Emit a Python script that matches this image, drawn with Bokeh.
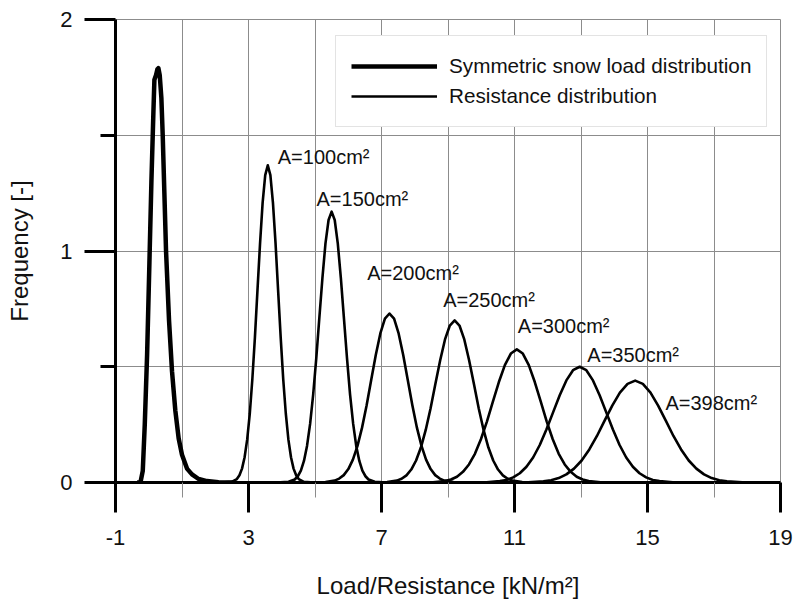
from bokeh.plotting import figure
from bokeh.models import Range1d, FixedTicker, Legend, LegendItem
from bokeh.core.properties import value
from bokeh.embed import file_html
from bokeh.resources import INLINE

# ---------------- data ----------------
x_ticks = [-1, 3, 7, 11, 15, 19]
x_tick_labels = ["-1", "3", "7", "11", "15", "19"]
x_minor = [1, 5, 9, 13, 17]
x_grid = [-1, 1, 3, 5, 7, 9, 11, 13, 15, 17, 19]
y_ticks = [0, 1, 2]
y_minor = [0.5, 1.5]
y_grid = [0, 0.5, 1, 1.5, 2]

snow_x = [-0.35, -0.25, -0.18, -0.12, -0.05, 0.02, 0.08, 0.14, 0.17, 0.22, 0.26, 0.29,
          0.33, 0.38, 0.42, 0.47, 0.52, 0.61, 0.70, 0.80, 0.90, 1.00, 1.15, 1.30, 1.50,
          1.75, 2.10, 2.60]
snow_y = [0.0, 0.0, 0.05, 0.25, 0.55, 0.95, 1.30, 1.60, 1.74, 1.76, 1.785, 1.79,
          1.76, 1.66, 1.50, 1.25, 1.00, 0.70, 0.48, 0.31, 0.19, 0.12, 0.06, 0.035, 0.015,
          0.006, 0.001, 0.0]

res100_x = [2.185, 2.495, 2.65, 2.728, 2.805, 2.883, 2.96, 3.038, 3.115, 3.193, 3.27, 3.348,
            3.425, 3.503, 3.58, 3.658, 3.735, 3.813, 3.89, 3.968, 4.045, 4.123, 4.2, 4.278,
            4.355, 4.433, 4.51, 4.665, 4.975]
res100_y = [0.0, 0.003, 0.015, 0.031, 0.060, 0.109, 0.185, 0.296, 0.445, 0.627, 0.831, 1.034,
            1.209, 1.328, 1.37, 1.328, 1.209, 1.034, 0.831, 0.627, 0.445, 0.296, 0.185, 0.109,
            0.060, 0.031, 0.015, 0.003, 0.0]

res150_x = [3.835, 4.205, 4.39, 4.483, 4.575, 4.668, 4.76, 4.853, 4.945, 5.038, 5.13, 5.223,
            5.315, 5.408, 5.5, 5.593, 5.685, 5.778, 5.87, 5.963, 6.055, 6.148, 6.24, 6.333,
            6.425, 6.518, 6.61, 6.795, 7.165]
res150_y = [0.0, 0.003, 0.013, 0.027, 0.051, 0.093, 0.158, 0.253, 0.380, 0.536, 0.710, 0.883,
            1.033, 1.134, 1.17, 1.134, 1.033, 0.883, 0.710, 0.536, 0.380, 0.253, 0.158, 0.093,
            0.051, 0.027, 0.013, 0.003, 0.0]

res200_x = [4.765, 5.315, 5.59, 5.728, 5.865, 6.003, 6.14, 6.278, 6.415, 6.553, 6.69, 6.828,
            6.965, 7.103, 7.24, 7.378, 7.515, 7.653, 7.79, 7.928, 8.065, 8.203, 8.34, 8.478,
            8.615, 8.753, 8.89, 9.165, 9.715]
res200_y = [0.0, 0.002, 0.008, 0.017, 0.032, 0.058, 0.099, 0.158, 0.237, 0.334, 0.443, 0.551,
            0.644, 0.708, 0.73, 0.708, 0.644, 0.551, 0.443, 0.334, 0.237, 0.158, 0.099, 0.058,
            0.032, 0.017, 0.008, 0.002, 0.0]

res250_x = [6.59, 7.17, 7.46, 7.605, 7.75, 7.895, 8.04, 8.185, 8.33, 8.475, 8.62, 8.765,
            8.91, 9.055, 9.2, 9.345, 9.49, 9.635, 9.78, 9.925, 10.07, 10.215, 10.36, 10.505,
            10.65, 10.795, 10.94, 11.23, 11.81]
res250_y = [0.0, 0.002, 0.008, 0.016, 0.031, 0.056, 0.095, 0.151, 0.227, 0.320, 0.425, 0.528,
            0.618, 0.678, 0.70, 0.678, 0.618, 0.528, 0.425, 0.320, 0.227, 0.151, 0.095, 0.056,
            0.031, 0.016, 0.008, 0.002, 0.0]

res300_x = [7.83, 8.55, 8.91, 9.09, 9.27, 9.45, 9.63, 9.81, 9.99, 10.17, 10.35, 10.53,
            10.71, 10.89, 11.07, 11.25, 11.43, 11.61, 11.79, 11.97, 12.15, 12.33, 12.51, 12.69,
            12.87, 13.05, 13.23, 13.59, 14.31]
res300_y = [0.0, 0.001, 0.006, 0.013, 0.025, 0.046, 0.078, 0.124, 0.187, 0.263, 0.349, 0.434,
            0.507, 0.557, 0.575, 0.557, 0.507, 0.434, 0.349, 0.263, 0.187, 0.124, 0.078, 0.046,
            0.025, 0.013, 0.006, 0.001, 0.0]

res350_x = [9.36, 10.16, 10.56, 10.76, 10.96, 11.16, 11.36, 11.56, 11.76, 11.96, 12.16, 12.36,
            12.56, 12.76, 12.96, 13.16, 13.36, 13.56, 13.76, 13.96, 14.16, 14.36, 14.56, 14.76,
            14.96, 15.16, 15.36, 15.76, 16.56]
res350_y = [0.0, 0.001, 0.006, 0.011, 0.022, 0.040, 0.068, 0.108, 0.162, 0.229, 0.303, 0.377,
            0.441, 0.485, 0.50, 0.485, 0.441, 0.377, 0.303, 0.229, 0.162, 0.108, 0.068, 0.040,
            0.022, 0.011, 0.006, 0.001, 0.0]

res398_x = [10.49, 11.41, 11.87, 12.10, 12.33, 12.56, 12.79, 13.02, 13.25, 13.48, 13.71, 13.94,
            14.17, 14.40, 14.63, 14.86, 15.09, 15.32, 15.55, 15.78, 16.01, 16.24, 16.47, 16.70,
            16.93, 17.16, 17.39, 17.85, 18.77]
res398_y = [0.0, 0.001, 0.005, 0.010, 0.019, 0.035, 0.060, 0.095, 0.143, 0.201, 0.267, 0.332,
            0.388, 0.426, 0.44, 0.426, 0.388, 0.332, 0.267, 0.201, 0.143, 0.095, 0.060, 0.035,
            0.019, 0.010, 0.005, 0.001, 0.0]

ann_labels = ["A=100cm²", "A=150cm²", "A=200cm²", "A=250cm²", "A=300cm²", "A=350cm²", "A=398cm²"]
ann_x = [3.88, 5.045, 6.57, 8.855, 11.10, 13.19, 15.54]
ann_y = [1.405, 1.2255, 0.903, 0.790, 0.678, 0.549, 0.344]

legend_labels = ["Symmetric snow load distribution", "Resistance distribution"]
x_title = "Load/Resistance [kN/m²]"
y_title = "Frequency [-]"

# ---------------- figure ----------------
FONT = "Liberation Sans"
GRID = "#8c8c8c"
INK = "#111111"

p = figure(width=795, height=601, x_range=Range1d(-1, 19), y_range=Range1d(0, 2),
           output_backend="svg", toolbar_location=None,
           min_border_left=115, min_border_right=15, min_border_top=19, min_border_bottom=119)
p.background_fill_color = "white"
p.border_fill_color = "white"
p.outline_line_color = GRID
p.outline_line_width = 1

p.xgrid.ticker = FixedTicker(ticks=x_grid)
p.ygrid.ticker = FixedTicker(ticks=y_grid)
for g in (p.xgrid, p.ygrid):
    g.grid_line_color = GRID
    g.grid_line_width = 1

xa = p.xaxis[0]
ya = p.yaxis[0]
xa.ticker = FixedTicker(ticks=x_ticks, minor_ticks=x_minor)
xa.major_label_overrides = {t: lab for t, lab in zip(x_ticks, x_tick_labels)}
ya.ticker = FixedTicker(ticks=y_ticks, minor_ticks=y_minor)
for ax in (xa, ya):
    ax.axis_line_width = 3
    ax.axis_line_color = "black"
    ax.major_tick_in = 0
    ax.minor_tick_in = 0
    ax.major_tick_line_width = 3
    ax.major_tick_line_color = "black"
    ax.major_label_text_font = FONT
    ax.major_label_text_font_size = "22px"
    ax.major_label_text_color = INK
    ax.axis_label_text_font = FONT
    ax.axis_label_text_font_size = "24px"
    ax.axis_label_text_font_style = "normal"
    ax.axis_label_text_color = INK

xa.major_tick_out = 30
xa.minor_tick_out = 15
xa.minor_tick_line_color = GRID
xa.minor_tick_line_width = 1
xa.major_label_standoff = 17
xa.axis_label = x_title
xa.axis_label_standoff = 24

ya.major_tick_out = 31
ya.minor_tick_out = 15
ya.minor_tick_line_color = "black"
ya.minor_tick_line_width = 3
ya.major_label_standoff = 12
ya.major_label_orientation = "horizontal"
ya.axis_label = y_title
ya.axis_label_standoff = 24

# curves
snow_r = p.line(snow_x, snow_y, line_color="black", line_width=4.5, line_join="round")
res_series = [(res100_x, res100_y), (res150_x, res150_y), (res200_x, res200_y),
              (res250_x, res250_y), (res300_x, res300_y), (res350_x, res350_y),
              (res398_x, res398_y)]
res_renderers = []
for xs, ys in res_series:
    res_renderers.append(p.line(xs, ys, line_color="black", line_width=2.6, line_join="round"))

p.text(x=ann_x, y=ann_y, text=ann_labels, text_font=value(FONT), text_font_size="20px",
       text_color=INK, text_align="left", text_baseline="alphabetic")

legend = Legend(items=[LegendItem(label=legend_labels[0], renderers=[snow_r]),
                       LegendItem(label=legend_labels[1], renderers=[res_renderers[0]])],
                location=(220, 355), orientation="vertical")
legend.border_line_color = "#c8c8c8"
legend.border_line_width = 1
legend.background_fill_color = "white"
legend.background_fill_alpha = 1.0
legend.padding = 15
legend.spacing = 0
legend.margin = 0
legend.label_height = 30
legend.glyph_height = 30
legend.glyph_width = 86
legend.label_standoff = 12
legend.label_text_font = FONT
legend.label_text_font_size = "20.7px"
legend.label_text_color = INK
p.add_layout(legend, "center")

open("out.html", "w").write(file_html(p, INLINE))
